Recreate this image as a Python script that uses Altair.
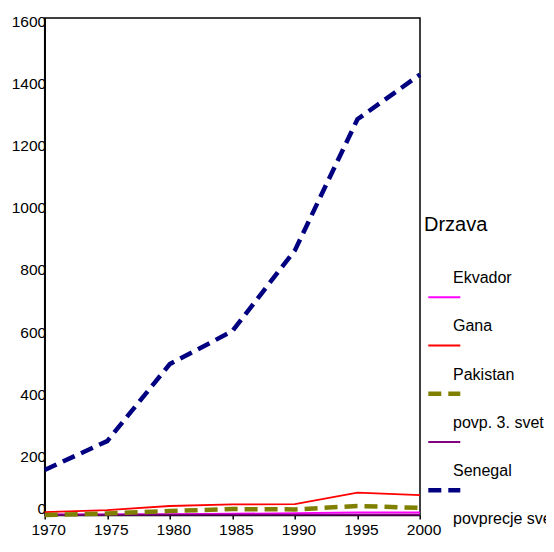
import altair as alt
import pandas as pd

FONT = "Liberation Sans"

YEARS = [1970, 1975, 1980, 1985, 1990, 1995, 2000]
Y_TICKS = [0, 200, 400, 600, 800, 1000, 1200, 1400, 1600]

SERIES = ["", "Ekvador", "Gana", "Pakistan", "povp. 3. svet", "Senegal"]
COLORS = ["#00ff00", "#ff00ff", "#ff0000", "#808000", "#800080", "#000080"]
SOLID = ["", "Ekvador", "Gana", "povp. 3. svet"]
DASHED = ["Pakistan", "Senegal"]

V_BLANK = [4, 6, 10, 18, 17, 20, 20]
V_EKVADOR = [2, 2, 3, 4, 6, 8, 8]
V_GANA = [9, 16, 29, 34, 35, 72, 64]
V_PAKISTAN = [0, 5, 13, 19, 18, 29, 23]
V_POVP3 = [1, 1, 1, 1, 1, 1, 1]
V_SENEGAL = [145, 238, 486, 592, 852, 1274, 1418]

LEGEND_TITLE = "Drzava"
LEGEND_LABELS = ["Ekvador", "Gana", "Pakistan", "povp. 3. svet", "Senegal", "povprecje svet"]

series_values = [V_BLANK, V_EKVADOR, V_GANA, V_PAKISTAN, V_POVP3, V_SENEGAL]
rows = []
for name, vals in zip(SERIES, series_values):
    for yr, v in zip(YEARS, vals):
        rows.append({"series": name, "year": yr, "value": v})
df = pd.DataFrame(rows)

PLOT_W = 375.3
PLOT_H = 497
PAD_L = 36.7
PAD_T = 10
SVG_W = 538
SVG_H = 530

color = alt.Color("series:N", scale=alt.Scale(domain=SERIES, range=COLORS), legend=None)

x = alt.X(
    "year:Q",
    scale=alt.Scale(domain=[1970, 2000], nice=False, zero=False),
    axis=alt.Axis(values=YEARS, format="d", title=None, grid=False, labelFlush=False,
                  tickSize=4, tickWidth=1.5, tickColor="black", labelPadding=3,
                  labelOffset=3.5, labelFontSize=15.5),
)
y = alt.Y(
    "value:Q",
    scale=alt.Scale(domain=[0, 1600], nice=False),
    axis=alt.Axis(values=Y_TICKS, format="d", title=None, grid=False, ticks=False, tickSize=0,
                  labelPadding=-1, labelFlush=False, labelFontSize=15.5,
                  labelOffset={"condition": {"test": "datum.value == 0", "value": -6.3}, "value": 3.4}),
)

base = alt.Chart(df)
solid = base.transform_filter(
    alt.FieldOneOfPredicate(field="series", oneOf=SOLID)
).mark_line(strokeWidth=1.8).encode(x=x, y=y, color=color)
dashed = base.transform_filter(
    alt.FieldOneOfPredicate(field="series", oneOf=DASHED)
).mark_line(strokeWidth=4.5, strokeDash=[13, 7]).encode(x=x, y=y, color=color)

main = alt.layer(solid, dashed)

# legend drawn to the right of the plot (labels sit below their row's symbol, as in the reference)
leg_sym = pd.DataFrame({"series": SERIES, "row": list(range(len(SERIES)))})
leg_lab = pd.DataFrame({"label": LEGEND_LABELS, "row": list(range(len(LEGEND_LABELS)))})
leg_title = pd.DataFrame({"title": [LEGEND_TITLE]})

yscale = alt.Scale(domain=[-4.788, 5.513], reverse=True)
SYM_X0 = PLOT_W + 8.3
SYM_X1 = PLOT_W + 40.3

sym_solid = alt.Chart(leg_sym).transform_filter(
    alt.FieldOneOfPredicate(field="series", oneOf=SOLID)
).mark_rule(strokeWidth=2).encode(
    x=alt.value(SYM_X0), x2=alt.value(SYM_X1),
    y=alt.Y("row:Q", scale=yscale, axis=None), color=color,
)
sym_dashed = alt.Chart(leg_sym).transform_filter(
    alt.FieldOneOfPredicate(field="series", oneOf=DASHED)
).mark_rule(strokeWidth=4.5, strokeDash=[13, 7]).encode(
    x=alt.value(SYM_X0), x2=alt.value(SYM_X1),
    y=alt.Y("row:Q", scale=yscale, axis=None), color=color,
)
labels = alt.Chart(leg_lab).transform_calculate(pos="datum.row + 0.705").mark_text(
    align="left", baseline="alphabetic", fontSize=16, font=FONT, color="black"
).encode(
    x=alt.value(PLOT_W + 33),
    y=alt.Y("pos:Q", scale=yscale, axis=None),
    text="label:N",
)
title = alt.Chart(leg_title).transform_calculate(pos="-0.373").mark_text(
    align="left", baseline="alphabetic", fontSize=20, font=FONT, color="black"
).encode(
    x=alt.value(PLOT_W + 4),
    y=alt.Y("pos:Q", scale=yscale, axis=None),
    text="title:N",
)

legend_layer = alt.layer(sym_solid, sym_dashed, labels, title)

chart = alt.layer(main, legend_layer).resolve_scale(y="independent").properties(
    width=PLOT_W, height=PLOT_H,
    autosize=alt.AutoSizeParams(type="none"),
    padding={"left": PAD_L, "top": PAD_T, "right": SVG_W - PAD_L - PLOT_W,
             "bottom": SVG_H - PAD_T - PLOT_H},
).configure_axis(
    labelFont=FONT, labelColor="black", domainColor="black", domainWidth=1.5,
).configure_view(stroke="black", strokeWidth=1.5)

chart.save("out.html", embed_options={"renderer": "svg", "actions": False})
